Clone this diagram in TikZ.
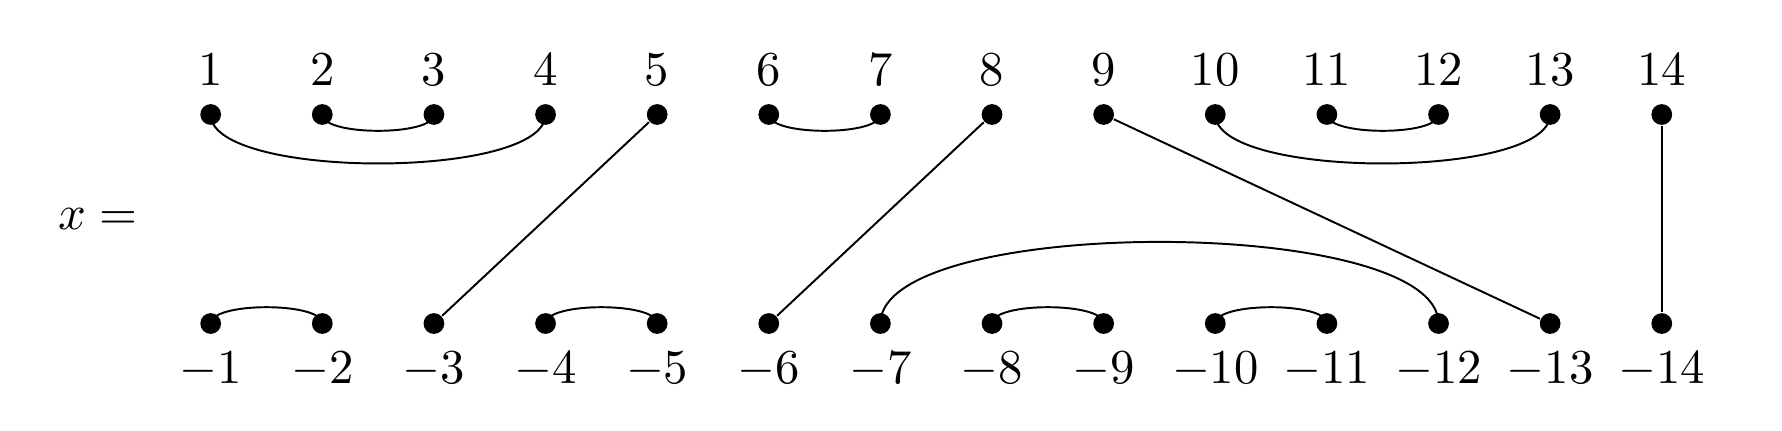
\documentclass[tikz,border=0pt]{standalone}
\tikzset{
dot/.style={circle, fill, inner sep=0pt, minimum size=4.26pt},
cupdown/.style={out=-90, in=-90, looseness=0.5},
cupup/.style={out=90, in=90, looseness=0.5}
}

\begin{document}
\begin{tikzpicture}[x=22.92pt, y=42.92pt]
      \useasboundingbox (-43.26pt,-21.87pt) rectangle (322.65pt,66.43pt);
      \node [anchor=east] (xeq) at (-0.5, 0.5) {$x=$};
      \foreach \i in {1,...,14} {
        \node [dot, label=above:$\i$] (t\i) at (\i-1, 1) {};
        \node [dot, label=below:$-\i$] (b\i) at (\i-1, 0) {};
      }
      % top row pairs
      \draw (t1.center) to [cupdown] (t4.center);
      \draw (t2.center) to [cupdown] (t3.center);
      \draw (t6.center) to [cupdown] (t7.center);
      \draw (t10.center) to [cupdown] (t13.center);
      \draw (t11.center) to [cupdown] (t12.center);
      % bottom row pairs
      \draw (b1.center) to [cupup] (b2.center);
      \draw (b4.center) to [cupup] (b5.center);
      \draw (b7.center) to [cupup] (b12.center);
      \draw (b8.center) to [cupup] (b9.center);
      \draw (b10.center) to [cupup] (b11.center);
      % through strands
      \draw (t5) -- (b3);
      \draw (t8) -- (b6);
      \draw (t9) -- (b13);
      \draw (t14) -- (b14);
    \end{tikzpicture}
\end{document}
